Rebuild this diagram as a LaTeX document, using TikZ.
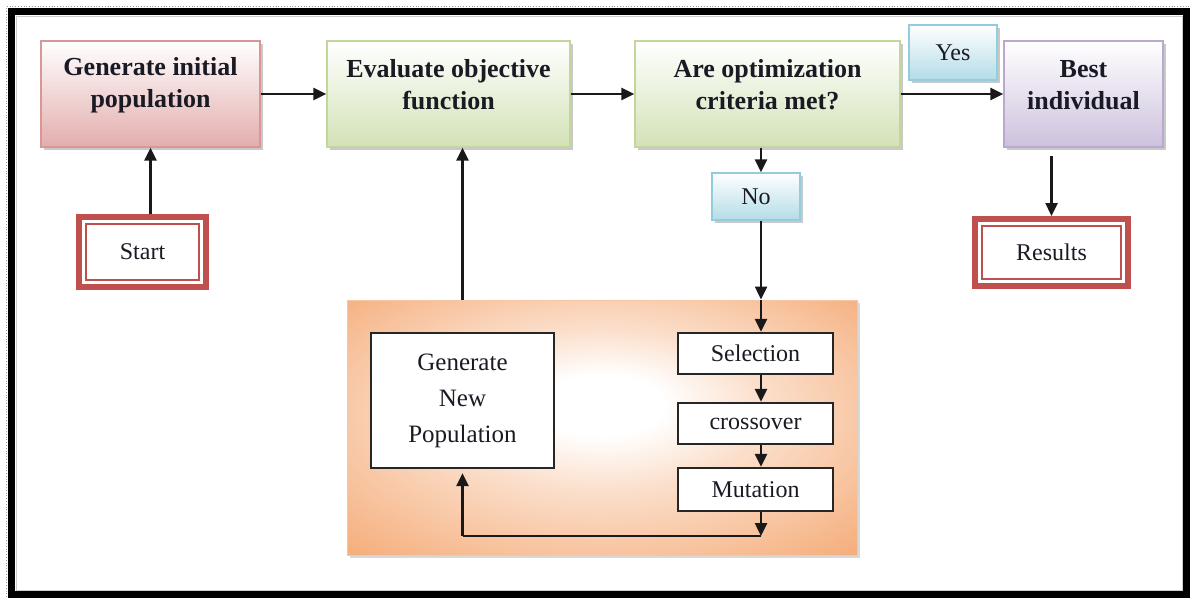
\documentclass[tikz,border=0pt]{standalone}
\usepackage{fontspec}
\setmainfont{Liberation Serif}
\usetikzlibrary{shadows,arrows.meta,calc}

\definecolor{pinkF}{HTML}{E3ADAD}
\definecolor{pinkD}{HTML}{D99694}
\definecolor{greenF}{HTML}{D3E2B6}
\definecolor{greenD}{HTML}{C3D69B}
\definecolor{lilacF}{HTML}{CDC1DD}
\definecolor{lilacD}{HTML}{B9A9CC}
\definecolor{skyF}{HTML}{B3DCE8}
\definecolor{skyD}{HTML}{93CDDD}
\definecolor{brick}{HTML}{C0504D}
\definecolor{peach}{HTML}{F5AE7C}
\definecolor{ink}{HTML}{1A1A24}

\pgfdeclareradialshading{peachglow}{\pgfpoint{0bp}{5bp}}{%
  color(0bp)=(white); color(6bp)=(white); color(16bp)=(peach!40); color(36bp)=(peach); color(50bp)=(peach)}

\tikzset{
  flowbox/.style={draw=#1D, line width=1.2pt, top color=white, bottom color=#1F,
    minimum height=106pt, inner sep=0pt,
    drop shadow={shadow xshift=3pt, shadow yshift=-3pt, fill=black!35, opacity=.6}},
  answer/.style={draw=skyD, line width=1.2pt, top color=white, bottom color=skyF,
    inner sep=0pt, font=\fontsize{24}{28}\selectfont, text=ink,
    drop shadow={shadow xshift=3pt, shadow yshift=-3pt, fill=black!35, opacity=.6}},
  boldtext/.style={align=center, inner sep=0pt, text=ink,
    font=\fontsize{26}{32}\selectfont\bfseries},
  terminal/.style={draw=brick, line width=2pt, fill=white, inner sep=0pt,
    font=\fontsize{24}{28}\selectfont, text=ink},
  stepbox/.style={draw=black!85, line width=2.4pt, fill=white, inner sep=0pt,
    font=\fontsize{24}{28}\selectfont, text=ink},
  arr/.style={line width=2.5pt, draw=black!90, -{Triangle[length=13pt,width=12pt]}},
  plain/.style={line width=2.5pt, draw=black!90}
}

\begin{document}
\begin{tikzpicture}[x=1pt,y=-1pt]
\useasboundingbox (0,0) rectangle (1190,597);
\clip (0,0) rectangle (1190,597);
\fill[white] (0,0) rectangle (1190,597);

% outer frame
\draw[black!40, dotted, line width=0.8pt] (6.5,597) -- (6.5,6.5) -- (1190,6.5);
\draw[black, line width=7.5pt] (11.5,11.5) rectangle (1187,595);
\draw[black!20, line width=0.8pt] (16,16) rectangle (1182,590);

% main row
\node[flowbox=pink,  minimum width=219pt] (geninit) at (150.5,94) {};
\node[flowbox=green, minimum width=243pt] (evalobj) at (448.5,94) {};
\node[flowbox=green, minimum width=265pt] (critmet) at (767.5,94) {};
\node[flowbox=lilac, minimum width=159pt] (best)    at (1083.5,94) {};

\node[boldtext] (geninit-t) at ($(geninit.center)+(0,-9)$) {Generate initial\\population};
\node[boldtext] (evalobj-t) at ($(evalobj.center)+(0,-9)$) {Evaluate objective\\function};
\node[boldtext] (critmet-t) at ($(critmet.center)+(0,-9)$) {Are optimization\\criteria met?};
\node[boldtext] (best-t)    at ($(best.center)+(0,-9)$)    {Best\\individual};

% decision answers
\node[answer, minimum width=88pt, minimum height=55pt] (yes) at (953,52.5) {Yes};
\node[answer, minimum width=88pt, minimum height=47pt] (no)  at (756,196.5) {No};

% start / end terminals
\node[terminal, minimum width=113pt, minimum height=56pt] (start)   at (142.5,252) {Start};
\draw[brick, line width=6pt] ($(start.north west)+(-6,-6)$) rectangle ($(start.south east)+(6,6)$);
\node[terminal, minimum width=139pt, minimum height=53pt] (results) at (1051.5,252.5) {Results};
\draw[brick, line width=6pt] ($(results.north west)+(-6,-6)$) rectangle ($(results.south east)+(6,6)$);

% genetic operators panel
\node[minimum width=510pt, minimum height=255pt, inner sep=0pt, draw=peach!70, line width=1pt,
      shading=peachglow,
      drop shadow={shadow xshift=3pt, shadow yshift=-3pt, fill=black!30, opacity=.5}]
      (ga) at (602,427.5) {};

\node[stepbox, minimum width=183pt, minimum height=135pt, align=center,
      font=\fontsize{25}{36}\selectfont] (newpop) at (462.5,400.5) {Generate\\New\\Population};
\node[stepbox, minimum width=155pt, minimum height=41pt] (sel)   at (755.5,353.5) {Selection};
\node[stepbox, minimum width=155pt, minimum height=41pt] (cross) at (755.5,423.5) {crossover};
\node[stepbox, minimum width=155pt, minimum height=43pt] (mut)   at (755.5,489.5) {Mutation};

\coordinate (spine) at (761,0);
\coordinate (loop) at (0,536);

% connectors
\draw[arr] ($(geninit.south |- start.north)+(0,-9)$) -- (geninit.south);
\draw[arr] (geninit.east) -- (evalobj.west);
\draw[arr] (evalobj.east) -- (critmet.west);
\draw[arr] (critmet.east) -- (best.west);
\draw[arr] ($(results.north |- best.south)+(0,8)$) -- ($(results.north)+(0,-9)$);
\draw[arr] (spine |- critmet.south) -- (spine |- no.north);
\draw[arr] (spine |- no.south) -- (spine |- ga.north);
\draw[arr] (spine |- ga.north) -- (spine |- sel.north);
\draw[arr] (spine |- sel.south) -- (spine |- cross.north);
\draw[arr] (spine |- cross.south) -- (spine |- mut.north);
\draw[arr] (spine |- mut.south) -- (spine |- loop);
\draw[plain] (spine |- loop) -- (newpop.south |- loop);
\draw[arr] (newpop.south |- loop) -- ($(newpop.south)+(0,4)$);
\draw[arr] (newpop.north |- ga.north) -- (newpop.north |- evalobj.south);
\end{tikzpicture}
\end{document}
